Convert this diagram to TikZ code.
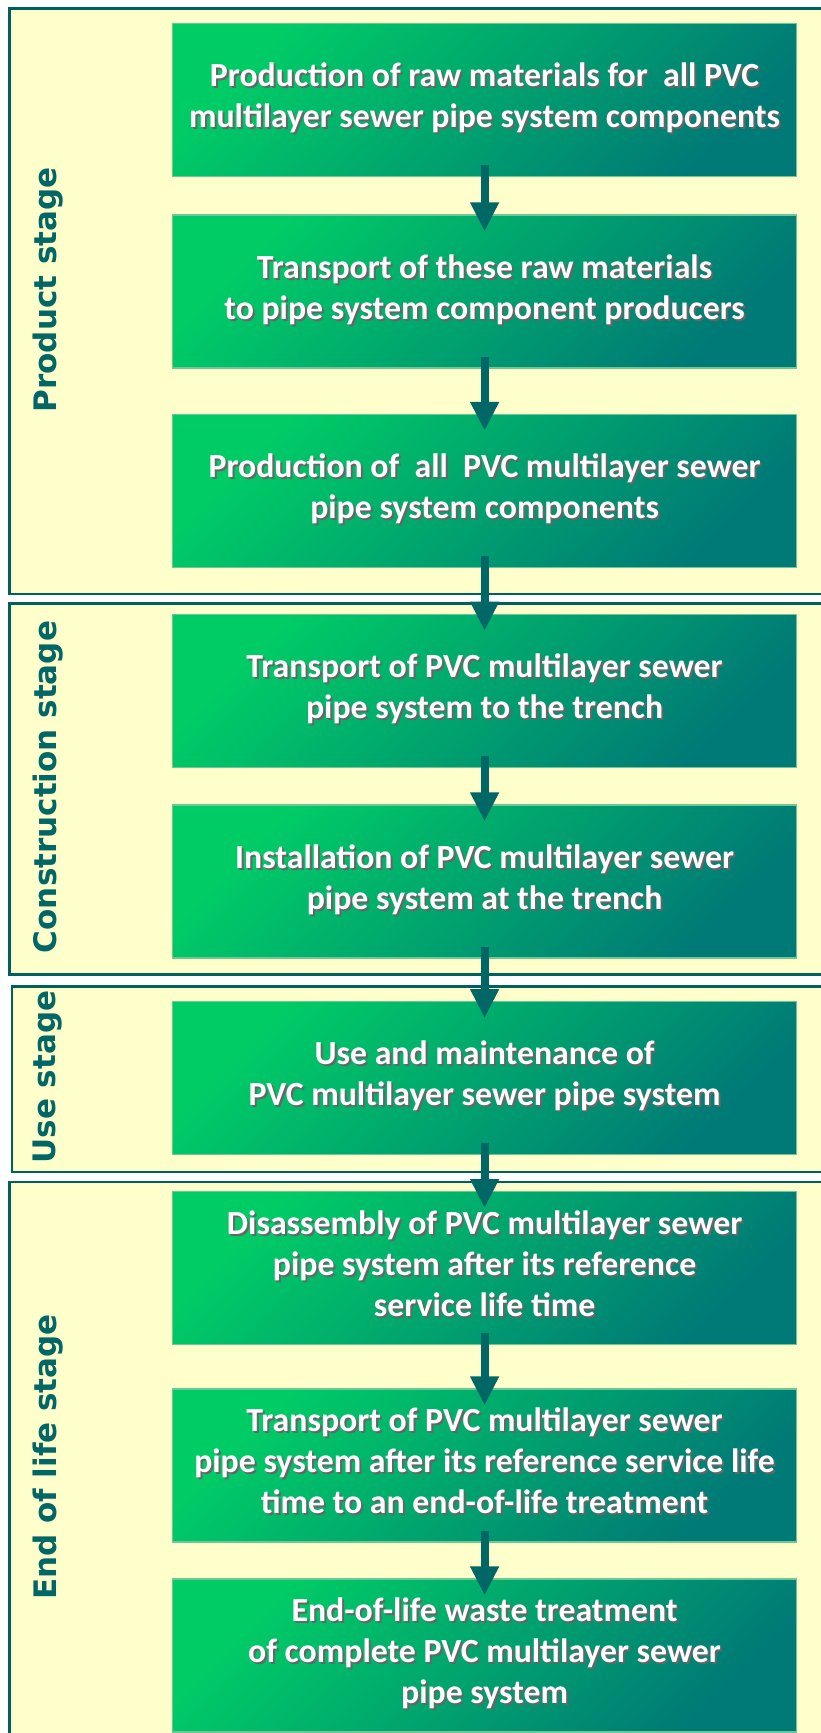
\documentclass[tikz,border=0pt]{standalone}
\usepackage{fontspec}
\setmainfont{Carlito}
\newfontfamily\stagefont{DejaVu Sans}
\usetikzlibrary{arrows.meta}

\definecolor{framefill}{RGB}{255,255,204}
\definecolor{frameline}{RGB}{0,96,96}
\definecolor{boxtop}{RGB}{0,204,102}
\definecolor{boxbottom}{RGB}{0,122,118}
\definecolor{boxedge}{RGB}{110,200,150}
\definecolor{arrowteal}{RGB}{0,102,102}

% white text with a soft dark shadow
\newcommand{\shadowed}[1]{%
  \makebox[0pt][l]{\hspace{1pt}\raisebox{-1pt}{\color{black!60}\begin{tabular}{@{}c@{}}#1\end{tabular}}}%
  \begin{tabular}{@{}c@{}}#1\end{tabular}}

\begin{document}
\begin{tikzpicture}[
    x=0.5pt, y=-0.5pt,
    stageframe/.style={rectangle, draw=frameline, line width=1.25pt, fill=framefill,
      anchor=north west, minimum width=420pt, inner sep=0pt},
    stagelabel/.style={rotate=90, text=arrowteal,
      font=\stagefont\bfseries\fontsize{15.5}{18}\selectfont},
    stepbox/.style={rectangle, draw=boxedge, line width=0.6pt,
      top color=boxtop, bottom color=boxbottom, shading angle=45,
      minimum width=312pt, minimum height=76.5pt, inner sep=0pt, text=white,
      font=\bfseries\fontsize{16.9}{20.5}\selectfont},
    flow/.style={draw=arrowteal, line width=4pt,
      -{Triangle[width=13.5pt, length=14.5pt]}, shorten <=-6pt, shorten >=-8.5pt}
  ]
  \useasboundingbox (0,0) rectangle (820,1733);
  \fill[white] (0,0) rectangle (820,1733);

  % stages
  \node[stageframe, minimum height=292.6pt] (product) at (8,7.5) {};
  \node[stageframe, minimum height=185.5pt] (construction) at (8,602) {};
  \node[stageframe, minimum height=92.85pt] (use) at (10.5,985) {};
  \node[stageframe, minimum height=290pt] (eol) at (8,1180.7) {};

  \node[stagelabel] (productlbl) at (48,290) {Product stage};
  \node[stagelabel] (constructionlbl) at (48,787) {Construction stage};
  \node[stagelabel] (uselbl) at (48,1077) {Use stage};
  \node[stagelabel] (eollbl) at (48,1457) {End of life stage};

  % steps
  \node[stepbox] (rawprod) at (484.6,99.8)
    {\shadowed{Production of raw materials for\ \ all PVC\\multilayer sewer pipe system components}};
  \node[stepbox] (rawtrans) at (484.6,291.5)
    {\shadowed{Transport of these raw materials\\to pipe system component producers}};
  \node[stepbox] (compprod) at (484.6,491)
    {\shadowed{Production of\ \ all\ \ PVC multilayer sewer\\pipe system components}};
  \node[stepbox] (sitetrans) at (484.6,690.8)
    {\shadowed{Transport of PVC multilayer sewer\\pipe system to the trench}};
  \node[stepbox] (install) at (484.6,881.5)
    {\shadowed{Installation of PVC multilayer sewer\\pipe system at the trench}};
  \node[stepbox] (usemaint) at (484.6,1078.2)
    {\shadowed{Use and maintenance of\\PVC multilayer sewer pipe system}};
  \node[stepbox] (disassembly) at (484.6,1268.2)
    {\shadowed{Disassembly of PVC multilayer sewer\\pipe system after its reference\\service life time}};
  \node[stepbox] (eoltrans) at (484.6,1465.5)
    {\shadowed{Transport of PVC multilayer sewer\\pipe system after its reference service life\\time to an end-of-life treatment}};
  \node[stepbox] (eoltreat) at (484.6,1655.5)
    {\shadowed{End-of-life waste treatment\\of complete PVC multilayer sewer\\pipe system}};

  % arrows
  \foreach \from/\to in {rawprod/rawtrans, rawtrans/compprod, compprod/sitetrans,
      sitetrans/install, install/usemaint, usemaint/disassembly,
      disassembly/eoltrans, eoltrans/eoltreat}
    \draw[flow] (\from) -- (\to);
\end{tikzpicture}
\end{document}
